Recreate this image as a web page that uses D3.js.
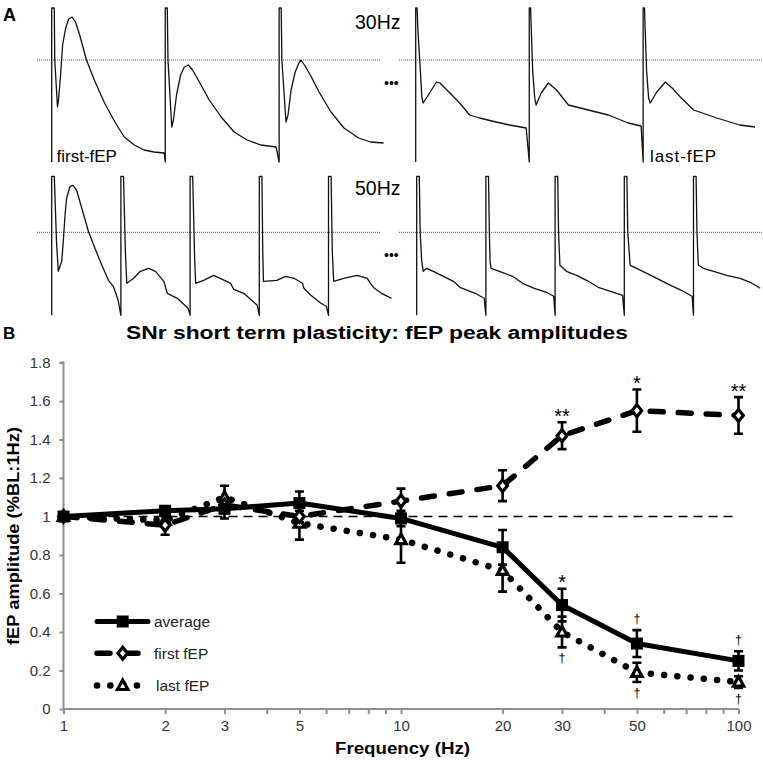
<!DOCTYPE html>
<html><head><meta charset="utf-8">
<script src="https://cdn.jsdelivr.net/npm/d3@7"></script>
<style>
body{margin:0;background:#fff}
svg{display:block}
text{font-family:"Liberation Sans",Arial,Helvetica,sans-serif}
</style>
</head><body>
<svg id="chart" width="763" height="763"></svg>
<script>
// ---------------- Panel B data ----------------
const frequencies = [1, 2, 3, 5, 10, 20, 30, 50, 100];
const averageMean = [1.00, 1.03, 1.04, 1.07, 0.99, 0.84, 0.54, 0.34, 0.25];
const averageErr  = [0, 0.02, 0.05, 0.06, 0.04, 0.09, 0.085, 0.07, 0.05];
const firstMean   = [1.00, 0.955, 1.06, 1.00, 1.08, 1.16, 1.42, 1.55, 1.525];
const firstErr    = [0, 0.05, 0.04, 0.03, 0.065, 0.08, 0.07, 0.11, 0.095];
const lastMean    = [1.00, 0.98, 1.10, 0.965, 0.88, 0.72, 0.40, 0.19, 0.14];
const lastErr     = [0, 0.03, 0.06, 0.085, 0.12, 0.11, 0.08, 0.05, 0.03];
const yTickValues = [0, 0.2, 0.4, 0.6, 0.8, 1, 1.2, 1.4, 1.6, 1.8];
const xTickValues = [1,2,3,4,5,6,7,8,9,10,20,30,40,50,60,70,80,90,100];
const xTickLabels = [1, 2, 3, 5, 10, 20, 30, 50, 100];
const seriesNames = ["average", "first fEP", "last fEP"];
const sigMarks = [
  {series: 1, freq: 30, text: "**", side: "above"},
  {series: 1, freq: 50, text: "*", side: "above"},
  {series: 1, freq: 100, text: "**", side: "above"},
  {series: 0, freq: 30, text: "*", side: "above"},
  {series: 0, freq: 50, text: "\u2020", side: "above"},
  {series: 0, freq: 100, text: "\u2020", side: "above"},
  {series: 2, freq: 30, text: "\u2020", side: "below"},
  {series: 2, freq: 50, text: "\u2020", side: "below"},
  {series: 2, freq: 100, text: "\u2020", side: "below"}
];

// ---------------- Panel A data (time in ms after each stimulus, amplitude in a.u.) ----------------
const stim30 = [0, 33.3, 66.7];
const stim50 = [0, 20, 40, 60, 80];
const sweeps30First = [
  [[0,-10.2],[0,5.2],[0.75,5.2],[0.9,0],[1.7,-4.7],[2.0,-4.0],[2.6,-1.5],[3.2,1.5],[4.1,3.2],[5.0,4.1],[6.0,4.3],[7.0,3.8],[8.2,2.5],[10.2,0],[12.5,-2.0],[15.5,-4.3],[18.7,-6.3],[21.3,-7.7],[24.2,-8.5],[27.1,-9.0],[30.0,-9.2],[33.0,-9.3]],
  [[0,-10.2],[0,5.2],[0.6,5.2],[0.8,0],[1.9,-6.7],[2.4,-6.0],[3.3,-3.5],[4.5,-1.5],[5.6,-0.7],[6.8,-0.5],[8.0,-1.0],[10.0,-2.2],[12.9,-4.0],[16.4,-5.7],[20.2,-7.2],[24.0,-8.0],[28.0,-8.5],[32.5,-8.7]],
  [[0,-10.2],[0,5.2],[0.6,5.2],[0.8,0],[2.0,-6.2],[2.6,-5.5],[3.5,-3.0],[4.7,-1.2],[5.8,-0.3],[6.4,0],[7.6,-0.6],[9.3,-1.6],[11.7,-3.2],[15.2,-5.2],[19.0,-6.8],[23.3,-7.8],[26.8,-8.2],[30.6,-8.3]]
];
const sweeps30Last = [
  [[0,-10.2],[0,5.2],[0.4,5.2],[0.7,2.7],[1.3,-0.7],[1.8,-3.7],[2.2,-4.3],[3.7,-3.5],[6.1,-2.2],[7.1,-2.3],[10.0,-3.3],[12.9,-4.3],[15.8,-5.5],[18.7,-5.8],[23.6,-6.2],[27.5,-6.5],[32.4,-6.8]],
  [[0,-10.2],[0,5.2],[0.4,5.2],[0.6,3.0],[1.0,-1.0],[1.6,-3.8],[2.0,-4.5],[3.5,-3.3],[5.6,-2.3],[8.0,-3.0],[11.5,-4.5],[17.3,-5.0],[23.2,-5.5],[29.0,-6.3],[32.8,-6.6]],
  [[0,-10.2],[0,5.2],[0.4,5.2],[0.6,3.0],[1.0,-1.0],[1.6,-3.8],[2.1,-4.3],[4.0,-3.2],[6.5,-2.2],[8.5,-2.8],[10.9,-3.7],[14.8,-5.0],[21.6,-5.8],[28.3,-6.5],[32.8,-6.7]]
];
const sweeps50First = [
  [[0,-8.3],[0,5.6],[0.75,5.6],[1.4,-1.0],[1.9,-3.9],[2.9,-2.9],[3.35,-0.9],[3.85,1.7],[4.3,3.4],[5.3,4.6],[6.2,4.7],[7.2,4.2],[8.7,2.4],[10.6,0.1],[12.5,-1.6],[14.5,-3.3],[16.4,-4.8],[17.8,-5.4],[19.2,-6.8]],
  [[0,-8.3],[0,5.6],[0.75,5.6],[1.3,-2.0],[1.7,-5.1],[3.7,-4.6],[5.6,-3.9],[8.0,-3.6],[10.0,-3.9],[12.4,-4.9],[13.4,-6.1],[16.3,-6.6],[19.4,-7.6]],
  [[0,-8.3],[0,5.6],[0.75,5.6],[1.3,-2.5],[1.6,-5.1],[3.9,-4.8],[6.8,-4.3],[8.7,-4.6],[11.7,-5.1],[12.6,-5.7],[15.5,-6.1],[19.4,-7.3]],
  [[0,-8.3],[0,5.6],[0.75,5.6],[1.0,-2.0],[1.2,-4.9],[5.1,-4.8],[7.6,-4.4],[10.0,-4.6],[12.5,-5.1],[12.9,-5.6],[14.9,-6.3],[17.8,-7.1],[19.4,-7.4]],
  [[0,-8.3],[0,5.6],[0.75,5.6],[1.1,-2.0],[1.5,-4.9],[4.4,-4.6],[8.3,-4.3],[11.2,-4.6],[12.1,-5.1],[13.3,-5.6],[15.3,-6.1],[18.2,-6.6]]
];
const sweeps50Last = [
  [[0,-8.3],[0,5.6],[0.75,5.6],[1.0,0],[1.45,-2.9],[1.9,-3.9],[2.9,-3.6],[4.8,-3.9],[7.7,-4.4],[10.6,-4.9],[12.5,-5.5],[16.9,-6.1],[19.5,-6.6]],
  [[0,-8.3],[0,5.6],[0.75,5.6],[1.0,0],[1.2,-2.9],[1.5,-3.6],[3.9,-3.9],[7.7,-4.4],[10.6,-5.1],[14.0,-5.6],[17.5,-6.0],[19.6,-6.4]],
  [[0,-8.3],[0,5.6],[0.75,5.6],[1.0,0],[1.4,-3.3],[3.3,-3.9],[6.2,-4.3],[9.1,-4.8],[12.5,-5.5],[16.0,-5.9],[19.5,-6.3]],
  [[0,-8.3],[0,5.6],[0.75,5.6],[1.0,0],[1.7,-3.3],[3.6,-3.6],[6.5,-4.1],[9.4,-4.6],[12.8,-5.2],[16.5,-5.8],[19.6,-6.4]],
  [[0,-8.3],[0,5.6],[0.75,5.6],[1.0,0],[1.4,-3.3],[2.9,-3.6],[5.8,-3.9],[9.6,-4.3],[13.5,-4.6],[16.4,-5.0],[19.3,-5.6]]
];

// ---------------- Drawing ----------------
const svg = d3.select("#chart");
svg.append("rect").attr("width", 763).attr("height", 763).attr("fill", "#fff");
const FONT = '"Liberation Sans",Arial,sans-serif';

// ===== Panel A =====
const gA = svg.append("g");
gA.append("text").attr("x", 3).attr("y", 21).attr("font-size", 18).attr("font-weight", "bold").text("A");

const yTop = d3.scaleLinear().domain([-10.2, 5.2]).range([162, 8]);
const yBot = d3.scaleLinear().domain([-8.3, 5.6]).range([315.3, 176.3]);
const xTopL = d3.scaleLinear().domain([0, 100]).range([51.7, 51.7 + 341]);
const xTopR = d3.scaleLinear().domain([0, 100]).range([415.7, 415.7 + 341]);
const xBotL = d3.scaleLinear().domain([0, 100]).range([51.7, 51.7 + 346]);
const xBotR = d3.scaleLinear().domain([0, 100]).range([416.7, 416.7 + 346]);

function drawGroup(sweeps, onsets, xs, ys) {
  const pts = [];
  sweeps.forEach((sw, i) => sw.forEach(p => pts.push([onsets[i] + p[0], p[1]])));
  gA.append("path")
    .attr("d", d3.line().x(d => xs(d[0])).y(d => ys(d[1]))(pts))
    .attr("fill", "none").attr("stroke", "#111").attr("stroke-width", 1.3)
    .attr("stroke-linejoin", "round");
}
// dotted threshold lines
[[yTop, 37, 381], [yTop, 399, 763], [yBot, 37, 381], [yBot, 399, 763]].forEach(([ys, a, b]) => {
  gA.append("line").attr("x1", a).attr("x2", b).attr("y1", ys(0)).attr("y2", ys(0))
    .attr("stroke", "#555").attr("stroke-width", 1).attr("stroke-dasharray", "1,1");
});
drawGroup(sweeps30First, stim30, xTopL, yTop);
drawGroup(sweeps30Last, stim30, xTopR, yTop);
drawGroup(sweeps50First, stim50, xBotL, yBot);
drawGroup(sweeps50Last, stim50, xBotR, yBot);

gA.append("text").attr("x", 355).attr("y", 28.5).attr("font-size", 19.5).text("30Hz");
gA.append("text").attr("x", 355).attr("y", 195).attr("font-size", 19.5).text("50Hz");
gA.append("text").attr("x", 384).attr("y", 88).attr("font-size", 14).text("\u2022\u2022\u2022");
gA.append("text").attr("x", 384).attr("y", 260).attr("font-size", 14).text("\u2022\u2022\u2022");
gA.append("text").attr("x", 56.5).attr("y", 161.5).attr("font-size", 17).text("first-fEP");
gA.append("text").attr("x", 650).attr("y", 161.5).attr("font-size", 17).attr("textLength", 66).text("last-fEP");

// ===== Panel B =====
const gB = svg.append("g");
gB.append("text").attr("x", 3).attr("y", 339.3).attr("font-size", 17).attr("font-weight", "bold").text("B");
gB.append("text").attr("x", 126).attr("y", 339).attr("font-size", 18).attr("font-weight", "bold")
  .attr("textLength", 502).attr("lengthAdjust", "spacingAndGlyphs")
  .text("SNr short term plasticity: fEP peak amplitudes");

const x = d3.scaleLog().domain([1, 100]).range([63.5, 738.5]);
const y = d3.scaleLinear().domain([0, 1.8]).range([709, 362.5]);
const AXC = "#8e8e8e";

// Y axis
const yAxis = gB.append("g").attr("transform", `translate(${x(1)},0)`)
  .call(d3.axisLeft(y).tickValues(yTickValues).tickSize(4).tickPadding(9)
    .tickFormat(d => d3.format("~g")(d)));
yAxis.select(".domain").attr("stroke", AXC).attr("stroke-width", 2).attr("d", `M-4,${y(1.8)}H0V${y(0)}`);
yAxis.selectAll(".tick line").attr("stroke", AXC).attr("stroke-width", 2);
yAxis.selectAll(".tick text").attr("font-size", 15).attr("fill", "#333").attr("font-family", FONT);

// X axis
const xAxis = gB.append("g").attr("transform", `translate(0,${y(0)})`)
  .call(d3.axisBottom(x).tickValues(xTickValues).tickSize(5).tickPadding(6)
    .tickFormat(d => xTickLabels.includes(d) ? String(d) : ""));
xAxis.select(".domain").attr("stroke", AXC).attr("stroke-width", 2).attr("d", `M${x(1)},0H${x(100)}`);
xAxis.selectAll(".tick line").attr("stroke", AXC).attr("stroke-width", 2);
xAxis.selectAll(".tick text").attr("font-size", 15).attr("fill", "#333").attr("font-family", FONT);

// Axis titles
gB.append("text").attr("x", 335).attr("y", 754).attr("font-size", 16).attr("font-weight", "bold")
  .attr("textLength", 135).attr("lengthAdjust", "spacingAndGlyphs").text("Frequency (Hz)");
gB.append("text").attr("transform", `translate(18.5,${(427 + 645) / 2}) rotate(-90)`)
  .attr("text-anchor", "middle").attr("font-size", 16).attr("font-weight", "bold")
  .attr("textLength", 218).attr("lengthAdjust", "spacingAndGlyphs").text("fEP amplitude (%BL:1Hz)");

// Reference line at 1
gB.append("line").attr("x1", x(1)).attr("x2", x(100)).attr("y1", y(1)).attr("y2", y(1))
  .attr("stroke", "#000").attr("stroke-width", 1.6).attr("stroke-dasharray", "9,6");

const means = [averageMean, firstMean, lastMean];
const errs = [averageErr, firstErr, lastErr];
const styles = [
  {dash: null, width: 5, cap: "butt"},
  {dash: "13,15", width: 5.5, cap: "round"},
  {dash: "0.1,13.2", width: 6.5, cap: "round"}
];

// error bars
means.forEach((m, s) => {
  frequencies.forEach((f, i) => {
    const e = errs[s][i];
    if (!e) return;
    const cx = x(f), y1 = y(m[i] - e), y2 = y(m[i] + e);
    gB.append("path").attr("d", `M${cx},${y1}V${y2}M${cx - 4.5},${y1}H${cx + 4.5}M${cx - 4.5},${y2}H${cx + 4.5}`)
      .attr("stroke", "#000").attr("stroke-width", 2.6).attr("fill", "none");
  });
});

// lines
const lineGen = d3.line().x(d => x(d[0])).y(d => y(d[1]));
means.forEach((m, s) => {
  const p = gB.append("path").attr("d", lineGen(frequencies.map((f, i) => [f, m[i]])))
    .attr("fill", "none").attr("stroke", "#000").attr("stroke-width", styles[s].width)
    .attr("stroke-linecap", styles[s].cap).attr("stroke-linejoin", "round");
  if (styles[s].dash) p.attr("stroke-dasharray", styles[s].dash);
});

// markers
function marker(g, s, cx, cy) {
  if (s === 0) {
    g.append("rect").attr("x", cx - 6).attr("y", cy - 6).attr("width", 12).attr("height", 12).attr("fill", "#000");
  } else if (s === 1) {
    g.append("path").attr("d", `M${cx},${cy - 6}L${cx + 4.8},${cy}L${cx},${cy + 6}L${cx - 4.8},${cy}Z`)
      .attr("fill", "#fff").attr("stroke", "#000").attr("stroke-width", 3.2);
  } else {
    g.append("path").attr("d", `M${cx},${cy - 5.5}L${cx + 5.2},${cy + 4}L${cx - 5.2},${cy + 4}Z`)
      .attr("fill", "#fff").attr("stroke", "#000").attr("stroke-width", 3.2).attr("stroke-linejoin", "miter");
  }
}
[2, 1, 0].forEach(s => frequencies.forEach((f, i) => marker(gB, s, x(f), y(means[s][i]))));

// significance marks
sigMarks.forEach(d => {
  const i = frequencies.indexOf(d.freq);
  const m = means[d.series][i], e = errs[d.series][i];
  const isStar = d.text.startsWith("*");
  const cy = d.side === "above" ? y(m + e) - 11 : y(m - e) + 11;
  const fs = isStar ? 20 : 12.5;
  const base = isStar ? cy + 0.58 * fs : cy + 0.3 * fs;
  gB.append("text").attr("x", x(d.freq)).attr("y", base).attr("text-anchor", "middle")
    .attr("font-size", fs).attr("fill", "#000").text(d.text);
});

// legend
const legY = [621.5, 653.3, 685.5];
seriesNames.forEach((name, s) => {
  const p = gB.append("line").attr("x1", 97).attr("x2", 148).attr("y1", legY[s]).attr("y2", legY[s])
    .attr("stroke", "#000").attr("stroke-width", styles[s].width).attr("stroke-linecap", styles[s].cap === "butt" ? "round" : styles[s].cap);
  if (styles[s].dash) p.attr("stroke-dasharray", styles[s].dash);
  marker(gB, s, 122.7, legY[s]);
  gB.append("text").attr("x", s === 2 ? 156 : 154).attr("y", legY[s] + 5.5).attr("font-size", 15.5)
    .attr("fill", "#222").text(name);
});
</script>
</body></html>
